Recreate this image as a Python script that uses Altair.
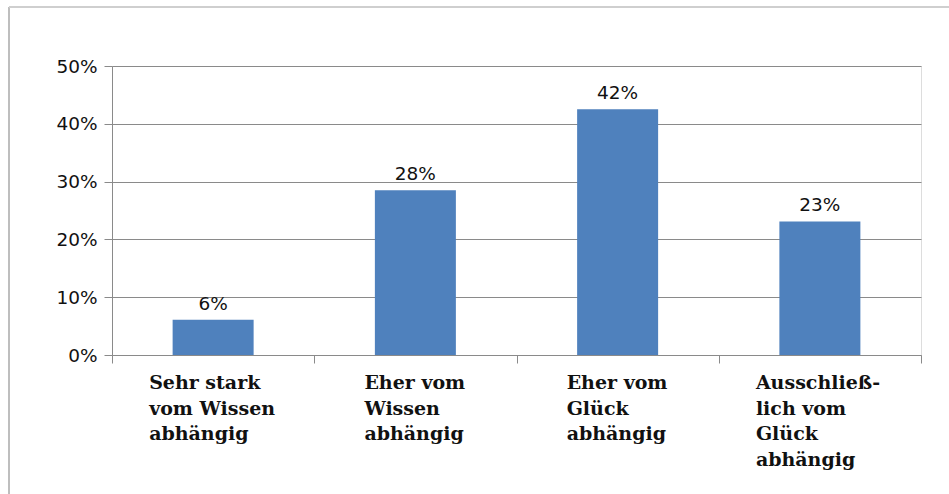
import altair as alt
import pandas as pd

categories = [
    "Sehr stark\nvom Wissen\nabhängig",
    "Eher vom\nWissen\nabhängig",
    "Eher vom\nGlück\nabhängig",
    "Ausschließ-\nlich vom\nGlück\nabhängig",
]
values = [0.061, 0.285, 0.425, 0.231]
value_labels = ["6%", "28%", "42%", "23%"]
y_ticks = [0, 0.1, 0.2, 0.3, 0.4, 0.5]

df = pd.DataFrame({"cat": categories, "val": values, "lab": value_labels})

W, H = 809, 289
GRAY = "#8a8a8a"

x_enc = alt.X(
    "cat:N",
    sort=None,
    title=None,
    scale=alt.Scale(paddingInner=0, paddingOuter=0),
    axis=alt.Axis(
        labels=False,
        tickBand="extent",
        tickColor=GRAY,
        tickSize=8,
        domainColor=GRAY,
        grid=False,
    ),
)

y_enc = alt.Y(
    "val:Q",
    title=None,
    scale=alt.Scale(domain=[0, 0.5], nice=False),
    axis=alt.Axis(
        values=y_ticks,
        format=".0%",
        labelFont="DejaVu Sans",
        labelFontSize=18.5,
        labelColor="#111111",
        labelPadding=7,
        tickColor=GRAY,
        tickSize=8,
        domainColor=GRAY,
        gridColor=GRAY,
        grid=True,
    ),
)

base = alt.Chart(df)

bars = base.mark_bar(color="#4F81BD", size=81).encode(x=x_enc, y=y_enc)

text = base.mark_text(
    font="DejaVu Sans", fontSize=18.5, color="#111111", baseline="alphabetic", dy=-10
).encode(
    x=alt.X("cat:N", sort=None),
    y="val:Q",
    text="lab:N",
)

cat_labels = base.mark_text(
    font="DejaVu Serif",
    fontWeight="bold",
    fontSize=19,
    lineHeight=25.5,
    lineBreak="\n",
    color="#111111",
    align="left",
    baseline="top",
    dx=alt.ExprRef("indexof(datum.cat, 'Eher') == 0 ? -51 : -64"),
).encode(
    x=alt.X("cat:N", sort=None),
    y=alt.value(H + 19),
    text="cat:N",
)

frame_df = pd.DataFrame({"k": [0]})
frame_left = alt.Chart(frame_df).mark_rule(color="#a8a8a8", strokeWidth=1.5).encode(
    x=alt.value(-103), y=alt.value(-59), y2=alt.value(440)
)
frame_top = alt.Chart(frame_df).mark_rule(color="#cfcfcf", strokeWidth=2).encode(
    x=alt.value(-103), x2=alt.value(840), y=alt.value(-59)
)

chart = (
    alt.layer(bars, text, cat_labels, frame_left, frame_top)
    .properties(
        width=W,
        height=H,
        autosize=alt.AutoSizeParams(type="none"),
        padding={"left": 112, "top": 66, "right": 28, "bottom": 139},
    )
    .configure_view(stroke=None)
    .configure(background="white")
)

chart.save("out.html", embed_options={"renderer": "svg", "actions": False})
